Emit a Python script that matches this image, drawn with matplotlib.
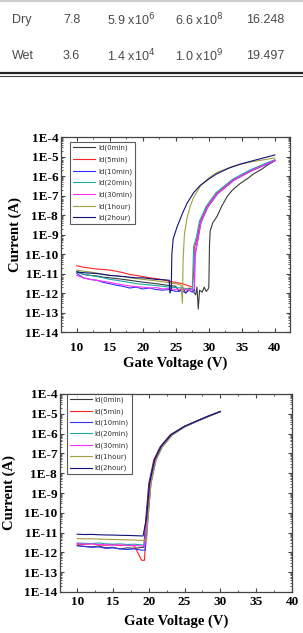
import numpy as np
import matplotlib
matplotlib.use("Agg")
import matplotlib.pyplot as plt
from matplotlib.lines import Line2D
from matplotlib.ticker import FixedLocator, LogLocator, NullFormatter

# ---- table fragment ----
tbl_rows = ["Dry", "Wet"]
tbl_mu = ["7.8", "3.6"]
tbl_onoff = ["5.9 x10$^{6}$", "1.4 x10$^{4}$"]
tbl_r = ["6.6 x10$^{8}$", "1.0 x10$^{9}$"]
tbl_vth = ["16.248", "19.497"]

labels = ["Id(0min)", "Id(5min)", "Id(10min)", "Id(20min)", "Id(30min)", "Id(1hour)", "Id(2hour)"]
colors = ["#3a3a3a", "#ff2020", "#3030ff", "#20a8a8", "#ff30ff", "#a0a040", "#10107a"]

# ---- panel 1 (dry) ----
v1_0 = [10, 11, 12, 13, 14, 15, 16, 17, 18, 19, 20, 21, 22, 23, 24, 25, 25.5, 26, 26.5, 27, 27.5, 28, 28.2, 28.4,
        28.6, 29, 29.3, 29.6, 29.9, 30.0, 30.1, 30.2, 30.6, 31.2, 32.0, 32.7, 33.5, 34.7, 36, 36.8, 38, 38.8, 40]
i1_0 = [1.2e-11, 9e-12, 8e-12, 7.5e-12, 6.5e-12, 6e-12, 5.5e-12, 5e-12, 4.5e-12, 4e-12, 3.6e-12, 3.3e-12, 3e-12,
        2.7e-12, 2.4e-12, 2.2e-12, 1.2e-12, 2e-12, 1.0e-12, 1.8e-12, 1.5e-12, 8e-13, 2e-12, 1.5e-13, 1.4e-12,
        1.1e-12, 2e-12, 1.2e-12, 1.6e-12, 2e-12, 3e-10, 1.5e-9, 4e-9, 8e-9, 3e-8, 8e-8, 1.8e-7, 4e-7, 8e-7,
        1.3e-6, 2.2e-6, 3.5e-6, 6e-6]
v1_5 = [10, 11, 12, 13, 14, 15, 16, 17, 18, 19, 20, 21, 22, 23, 24, 25, 26, 27, 27.5, 27.7, 27.8, 28.2, 28.7,
        29.7, 31.2, 33.7, 36.3, 38.8, 40]
i1_5 = [2.5e-11, 2.1e-11, 1.9e-11, 1.7e-11, 1.6e-11, 1.5e-11, 1.3e-11, 1.1e-11, 9e-12, 8e-12, 7e-12, 6e-12,
        5.5e-12, 4.8e-12, 4e-12, 3.5e-12, 3e-12, 2.3e-12, 2e-12, 1e-11, 2e-10, 6e-10, 4.5e-9, 2.6e-8, 1.3e-7,
        6.5e-7, 1.9e-6, 4.5e-6, 6.5e-6]
v1_10 = [10, 11, 12, 13, 14, 15, 16, 17, 18, 19, 20, 21, 22, 23, 24, 25, 26, 26.5, 27, 27.5, 27.8, 27.9, 28.3,
         28.8, 29.8, 31.3, 33.8, 36.4, 38.9, 40]
i1_10 = [1e-11, 6e-12, 5e-12, 4.5e-12, 3.5e-12, 3e-12, 2.5e-12, 2.2e-12, 1.8e-12, 2e-12, 1.6e-12, 1.8e-12,
         1.5e-12, 1.4e-12, 1.5e-12, 1.2e-12, 1.3e-12, 1e-12, 1.4e-12, 1.1e-12, 1.3e-12, 8e-11, 4.5e-10, 4e-9,
         2.4e-8, 1.2e-7, 6e-7, 1.8e-6, 4.2e-6, 6e-6]
v1_20 = [10, 11, 12, 13, 14, 15, 16, 17, 18, 19, 20, 21, 22, 23, 24, 25, 26, 27, 27.5, 27.6, 27.7, 28.1, 28.6,
         29.6, 31.1, 33.6, 36.2, 38.7, 40]
i1_20 = [1.3e-11, 9e-12, 8e-12, 7e-12, 6e-12, 5e-12, 4.5e-12, 4e-12, 3.5e-12, 3e-12, 2.8e-12, 2.6e-12, 2.4e-12,
         2.2e-12, 2e-12, 1.9e-12, 1.8e-12, 1.6e-12, 1.5e-12, 2e-11, 2.5e-10, 7e-10, 5e-9, 2.8e-8, 1.4e-7, 6.8e-7,
         2e-6, 4.6e-6, 6.8e-6]
v1_30 = [10, 11, 12, 13, 14, 15, 16, 17, 18, 19, 20, 21, 22, 23, 24, 25, 26, 27, 27.6, 27.8, 27.9, 28.3, 28.8,
         29.8, 31.3, 33.8, 36.4, 38.9, 40]
i1_30 = [8e-12, 6e-12, 5e-12, 4.5e-12, 4e-12, 3.5e-12, 3e-12, 2.6e-12, 2.3e-12, 2.1e-12, 2e-12, 1.8e-12,
         1.9e-12, 1.6e-12, 1.7e-12, 1.5e-12, 1.6e-12, 1.4e-12, 1.5e-12, 1.6e-12, 1e-10, 5e-10, 4.2e-9, 2.5e-8,
         1.25e-7, 6.2e-7, 1.85e-6, 4.3e-6, 6.2e-6]
v1_1h = [10, 11, 12, 13, 14, 15, 16, 17, 18, 19, 20, 21, 22, 23, 24, 25, 25.8, 26.0, 26.1, 26.3, 26.7, 27.2,
         27.7, 28.7, 30, 31.2, 33.7, 36, 38, 40]
i1_1h = [1.5e-11, 1.3e-11, 1.2e-11, 1.05e-11, 9e-12, 8e-12, 7.5e-12, 7e-12, 6e-12, 5.5e-12, 5e-12, 4.6e-12,
         4.2e-12, 3.8e-12, 3.4e-12, 3e-12, 2.5e-12, 3e-13, 5e-11, 1e-9, 7e-9, 3e-8, 8e-8, 3e-7, 8e-7, 1.5e-6,
         3.2e-6, 5e-6, 6.5e-6, 8.5e-6]
v1_2h = [10, 11, 12, 13, 14, 15, 16, 17, 18, 19, 20, 21, 22, 23, 24, 24.1, 24.3, 24.4, 24.6, 25.2, 26, 26.7,
         27.7, 28.7, 30, 31.2, 33, 34.7, 37, 40]
i1_2h = [1.2e-11, 1.1e-11, 1.05e-11, 1e-11, 9e-12, 8e-12, 7.5e-12, 7e-12, 6.5e-12, 6e-12, 6e-12, 5.5e-12,
         5e-12, 4.8e-12, 4.5e-12, 1e-12, 1.5e-12, 1e-10, 6e-10, 2.5e-9, 1.2e-8, 4e-8, 1.4e-7, 3.3e-7, 7e-7,
         1.3e-6, 2.5e-6, 4e-6, 6.5e-6, 1.2e-5]

# ---- panel 2 (wet) ----
on2_I = [6e-11, 3e-9, 4.7e-8, 2.2e-7, 8.7e-7, 2.3e-6, 4.6e-6, 7.5e-6, 1.3e-5]
v2_off = [10, 11, 12, 13, 14, 15, 16, 17, 18, 19]
i2_0_off = [2.2e-12, 2e-12, 1.9e-12, 2.1e-12, 1.7e-12, 1.8e-12, 1.5e-12, 1.7e-12, 1.6e-12, 1.8e-12]
i2_5_off = [2.6e-12, 2.5e-12, 2.8e-12, 2.4e-12, 2.3e-12, 2.5e-12, 2.2e-12, 2.3e-12, 2.1e-12, 4e-13]
i2_10_off = [2.2e-12, 2e-12, 1.8e-12, 1.9e-12, 1.6e-12, 1.7e-12, 1.5e-12, 1.4e-12, 1.5e-12, 1.3e-12]
i2_20_off = [3e-12, 2.9e-12, 2.8e-12, 3e-12, 2.7e-12, 2.6e-12, 2.7e-12, 2.5e-12, 2.6e-12, 2.4e-12]
i2_30_off = [2.8e-12, 2.6e-12, 2.7e-12, 2.5e-12, 2.4e-12, 2.3e-12, 2.4e-12, 2.2e-12, 2.3e-12, 2.1e-12]
i2_1h_off = [5e-12, 4.8e-12, 4.9e-12, 4.7e-12, 4.6e-12, 4.5e-12, 4.4e-12, 4.3e-12, 4.2e-12, 4e-12]
i2_2h_off = [8.3e-12, 8e-12, 8.1e-12, 7.8e-12, 7.6e-12, 7.5e-12, 7.3e-12, 7.2e-12, 7e-12, 6.8e-12]
v2_0_on = [19.3, 19.6, 20.0, 20.7, 21.6, 23.0, 24.9, 26.8, 28.2, 29.9]
v2_5_on = [19.4, 19.7, 20.1, 20.8, 21.7, 23.1, 25.0, 26.9, 28.3, 30.0]
v2_10_on = [19.5, 19.9, 20.3, 21.0, 21.9, 23.3, 25.1, 27.0, 28.4, 30.0]
v2_20_on = [19.4, 19.8, 20.2, 20.9, 21.8, 23.2, 25.0, 26.9, 28.3, 30.0]
v2_30_on = [19.4, 19.8, 20.2, 20.9, 21.8, 23.2, 25.05, 26.9, 28.3, 30.0]
v2_1h_on = [19.7, 19.9, 20.3, 21.0, 21.9, 23.3, 25.1, 27.0, 28.4, 30.0]
v2_2h_on = [19.2, 19.7, 20.1, 20.8, 21.7, 23.1, 25.0, 26.9, 28.3, 30.0]

W, H = 303, 633
fig = plt.figure(figsize=(W / 100, H / 100), dpi=100)

def fy(py):
    return 1 - py / H

# table
tfont = dict(family=["Liberation Sans", "DejaVu Sans"], fontsize=9, color="#4a4a4a", va="center")
colx = [12, 63, 107, 175, 246]
for r, py in enumerate([20, 56]):
    for c, txt in enumerate([tbl_rows[r], tbl_mu[r], tbl_onoff[r], tbl_r[r], tbl_vth[r]]):
        fig.text(colx[c] / W, fy(py), txt, **tfont)
fig.add_artist(Line2D([0, 1], [fy(1), fy(1)], transform=fig.transFigure, color="#cccccc", lw=1.5))
fig.add_artist(Line2D([0, 1], [fy(73), fy(73)], transform=fig.transFigure, color="#222222", lw=1.6))
fig.add_artist(Line2D([0, 1], [fy(75.8), fy(75.8)], transform=fig.transFigure, color="#444444", lw=0.8))

serif = ["Liberation Serif", "DejaVu Serif"]

def panel(box, xlim, curves, xpad, leg_anchor, leg_space, xlab_y, ylab_x):
    l, t, r, b = box
    ax = fig.add_axes([l / W, fy(b), (r - l) / W, (b - t) / H])
    for (vx, iy), c, lab in zip(curves, colors, labels):
        ax.plot(vx, iy, color=c, lw=0.8, label=lab)
    ax.set_yscale("log")
    ax.set_ylim(1e-14, 1e-4)
    ax.set_xlim(*xlim)
    ax.yaxis.set_major_locator(FixedLocator([10.0 ** k for k in range(-14, -3)]))
    ax.yaxis.set_minor_locator(LogLocator(base=10, subs=(2, 3, 4, 5, 6, 7, 8, 9), numticks=20))
    ax.yaxis.set_minor_formatter(NullFormatter())
    ax.set_yticklabels(["1E%d" % k for k in range(-14, -3)])
    ax.set_xticks([10, 15, 20, 25, 30, 35, 40])
    ax.set_xticks([12.5, 17.5, 22.5, 27.5, 32.5, 37.5], minor=True)
    ax.tick_params(which="both", direction="in", top=True, right=True, color="#444444")
    ax.tick_params(which="major", length=3, width=0.8)
    ax.tick_params(which="minor", length=1.5, width=0.6)
    ax.tick_params(axis="y", pad=2)
    ax.tick_params(axis="x", pad=xpad)
    for lab in ax.get_xticklabels() + ax.get_yticklabels():
        lab.set_fontfamily(serif)
        lab.set_fontweight("bold")
        lab.set_fontsize(9.5)
    for s in ax.spines.values():
        s.set_color("#444444")
        s.set_linewidth(0.9)
    ax.set_xlabel("Gate Voltage (V)", fontfamily=serif, fontweight="bold", fontsize=10.5)
    ax.set_ylabel("Current (A)", fontfamily=serif, fontweight="bold", fontsize=10.5)
    ax.xaxis.set_label_coords(0.5, -(xlab_y - 6.5 - b) / (b - t))
    ax.yaxis.set_label_coords((ylab_x + 6.5 - l) / (r - l), 0.5)
    leg = ax.legend(loc="upper left", bbox_to_anchor=leg_anchor, fontsize=5, frameon=True, fancybox=False,
                    handlelength=3.2, handletextpad=0.4, labelspacing=leg_space, borderpad=0.4,
                    borderaxespad=0)
    leg.get_frame().set_edgecolor("#333333")
    leg.get_frame().set_linewidth(0.8)
    for tx in leg.get_texts():
        tx.set_color("#333333")
    return ax

curves1 = [(v1_0, i1_0), (v1_5, i1_5), (v1_10, i1_10), (v1_20, i1_20), (v1_30, i1_30), (v1_1h, i1_1h),
           (v1_2h, i1_2h)]
ax1 = panel((61, 137, 290, 332), (7.6, 42.3), curves1, 7, (0.04, 0.975), 0.75, 363, 16)

offs2 = [i2_0_off, i2_5_off, i2_10_off, i2_20_off, i2_30_off, i2_1h_off, i2_2h_off]
ons2 = [v2_0_on, v2_5_on, v2_10_on, v2_20_on, v2_30_on, v2_1h_on, v2_2h_on]
curves2 = []
for ioff, von in zip(offs2, ons2):
    curves2.append((v2_off + von, ioff + [ioff[-1]] + on2_I))
ax2 = panel((60, 394, 292, 592), (7.6, 40.0), curves2, 3, (0.03, 1.0), 0.7, 621, 10)

fig.savefig("out.png", dpi=100)
